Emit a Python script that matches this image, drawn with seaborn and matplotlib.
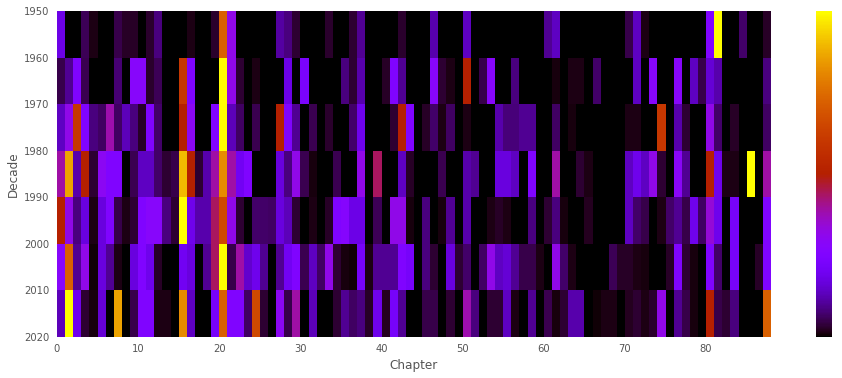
import matplotlib
matplotlib.use("Agg")
import matplotlib.pyplot as plt
import seaborn as sns
import numpy as np
import pandas as pd

# ---- data ----
decades = [1950, 1960, 1970, 1980, 1990, 2000, 2010]
decade_ticks = [1950, 1960, 1970, 1980, 1990, 2000, 2010, 2020]
chapter_ticks = [0, 10, 20, 30, 40, 50, 60, 70, 80]
chapters = list(range(88))

d1950 = [0.18, 0, 0, 0.055, 0.015, 0, 0, 0.05, 0.025, 0.025, 0, 0.03, 0.085, 0, 0,
         0, 0.015, 0, 0, 0.03, 0.72, 0.32, 0, 0, 0, 0, 0, 0.11, 0.085, 0.035,
         0, 0, 0, 0.03, 0, 0, 0.035, 0.1, 0, 0, 0, 0, 0.03, 0, 0,
         0, 0.12, 0, 0, 0, 0.14, 0, 0, 0, 0, 0, 0, 0, 0, 0,
         0.1, 0.14, 0, 0, 0, 0, 0, 0, 0, 0, 0.048, 0.14, 0.015, 0, 0,
         0, 0, 0, 0, 0, 0.25, 1.0, 0, 0, 0.07, 0, 0, 0.025]
d1960 = [0.05, 0.1, 0.25, 0.052, 0, 0, 0, 0.075, 0, 0.28, 0.28, 0.03, 0.055, 0, 0,
         0.6, 0.25, 0, 0, 0, 1.0, 0.32, 0.035, 0, 0.015, 0, 0, 0, 0.18, 0,
         0.23, 0, 0, 0, 0, 0.085, 0.035, 0.12, 0, 0, 0.025, 0.25, 0.1, 0, 0,
         0, 0.28, 0.035, 0.015, 0, 0.5, 0, 0.048, 0.28, 0, 0, 0.085, 0, 0, 0,
         0, 0.01, 0, 0.015, 0.015, 0, 0.07, 0, 0, 0, 0, 0.14, 0, 0.28, 0,
         0, 0.28, 0, 0.14, 0.048, 0.16, 0.12, 0, 0, 0, 0, 0, 0.085]
d1970 = [0.14, 0.32, 0.6, 0.25, 0.085, 0.065, 0.38, 0.065, 0.13, 0.085, 0.025, 0.25, 0.07, 0, 0,
         0.5, 0.3, 0, 0, 0.25, 1.0, 0.13, 0.063, 0, 0.052, 0, 0, 0.5, 0.25, 0.1,
         0, 0.052, 0, 0.03, 0, 0, 0.07, 0.19, 0, 0, 0, 0.035, 0.5, 0.25, 0,
         0.025, 0.07, 0.015, 0.063, 0, 0.015, 0, 0, 0, 0.12, 0.08, 0.08, 0.1, 0.1, 0,
         0, 0.063, 0, 0.01, 0, 0, 0, 0, 0, 0, 0.015, 0.015, 0, 0, 0.6,
         0, 0.12, 0.035, 0, 0, 0.32, 0.07, 0, 0.025, 0, 0, 0, 0.063]
d1980 = [0.39, 0.86, 0.12, 0.5, 0.035, 0.3, 0.25, 0.25, 0, 0.052, 0.14, 0.14, 0.07, 0.035, 0.048,
         0.9, 0.5, 0.035, 0.12, 0.39, 0.82, 0.39, 0.2, 0.25, 0, 0, 0, 0.17, 0.085, 0.32,
         0.052, 0.01, 0, 0, 0.052, 0, 0, 0.32, 0, 0.44, 0, 0, 0.14, 0.025, 0,
         0, 0, 0.052, 0, 0, 0.12, 0.1, 0, 0, 0.17, 0.17, 0.14, 0, 0.25, 0,
         0, 0.39, 0, 0, 0.035, 0.015, 0, 0, 0, 0, 0.14, 0.19, 0.14, 0.32, 0.035,
         0, 0.29, 0.1, 0, 0, 0.5, 0.19, 0.015, 0.015, 0, 1.0, 0, 0.39]
d1990 = [0.5, 0.32, 0.085, 0.17, 0.015, 0.17, 0.25, 0.048, 0.015, 0.035, 0.25, 0.28, 0.28, 0.085, 0.035,
         1.0, 0.19, 0.12, 0.12, 0.44, 0.66, 0.32, 0.035, 0, 0.07, 0.07, 0.063, 0.17, 0.13, 0.035,
         0, 0.015, 0, 0.025, 0.25, 0.27, 0.18, 0.18, 0, 0.055, 0, 0.32, 0.32, 0.01, 0,
         0.085, 0, 0.01, 0.1, 0, 0.12, 0, 0, 0.015, 0.025, 0.015, 0, 0, 0.085, 0,
         0.035, 0.085, 0.01, 0, 0, 0.02, 0, 0, 0, 0, 0.14, 0.07, 0.048, 0, 0.015,
         0.07, 0.1, 0.048, 0.19, 0.063, 0.34, 0.19, 0, 0.22, 0, 0, 0, 0.25]
d2000 = [0.28, 0.72, 0.1, 0.32, 0.005, 0.17, 0.1, 0.015, 0, 0.17, 0.25, 0.19, 0.025, 0, 0,
         0.2, 0.17, 0, 0.1, 0.44, 1.0, 0.048, 0.39, 0.15, 0.19, 0.1, 0, 0.1, 0.2, 0.25,
         0.052, 0.14, 0.063, 0.32, 0.035, 0.01, 0.005, 0.22, 0.015, 0.1, 0.1, 0.1, 0.25, 0.22, 0,
         0.085, 0.035, 0, 0.17, 0.035, 0.07, 0, 0.063, 0.32, 0.14, 0.16, 0.1, 0.05, 0.05, 0.015,
         0, 0.32, 0.07, 0.015, 0, 0, 0, 0, 0.055, 0.025, 0.025, 0.015, 0.01, 0, 0,
         0.025, 0.25, 0.035, 0.01, 0.003, 0.25, 0.07, 0, 0.22, 0, 0, 0.025, 0.25]
d2010 = [0.13, 1.0, 0.19, 0.035, 0.01, 0.16, 0, 0.86, 0, 0.048, 0.25, 0.25, 0.015, 0.015, 0,
         0.82, 0.14, 0, 0, 0.22, 0.72, 0.25, 0.25, 0.063, 0.66, 0.035, 0, 0.3, 0.048, 0.39,
         0, 0.13, 0, 0, 0.035, 0.1, 0.063, 0.085, 0.025, 0.19, 0.02, 0.22, 0.1, 0, 0,
         0.05, 0.05, 0, 0.035, 0, 0.38, 0.085, 0, 0.035, 0.035, 0.14, 0.015, 0, 0.1, 0,
         0.052, 0.01, 0.035, 0.12, 0.12, 0, 0.005, 0.015, 0.015, 0, 0.02, 0.035, 0.012, 0.03, 0.32,
         0, 0.1, 0.048, 0.01, 0, 0.5, 0.048, 0.035, 0.085, 0, 0, 0, 0.72]

rows = [d1950, d1960, d1970, d1980, d1990, d2000, d2010]
df = pd.DataFrame(rows, index=decades, columns=chapters)

# ---- style ----
sns.set_style("white")
plt.rcParams["font.family"] = ["DejaVu Sans"]
gray = "#555555"

W, H, DPI = 842, 378, 72
fig = plt.figure(figsize=(W / DPI, H / DPI), dpi=DPI)
ax = fig.add_axes([57 / W, 1 - 337 / H, 714 / W, 326 / H])
cax = fig.add_axes([816 / W, 1 - 337 / H, 16 / W, 326 / H])

sns.heatmap(df, ax=ax, cbar_ax=cax, cmap="gnuplot", vmin=0, vmax=1,
            xticklabels=False, yticklabels=False)

ax.set_xticks(chapter_ticks)
ax.set_xticklabels([str(c) for c in chapter_ticks])
ax.set_yticks(range(len(decade_ticks)))
ax.set_yticklabels([str(d) for d in decade_ticks], rotation=0)
ax.tick_params(axis="both", colors=gray, labelcolor=gray, length=4,
               width=0.8, labelsize=10, direction="out")
ax.set_xlabel("Chapter", color=gray, fontsize=12)
ax.set_ylabel("Decade", color=gray, fontsize=12)

cax.set_yticks([])
cax.tick_params(length=0)

fig.savefig("out.png", dpi=DPI)
